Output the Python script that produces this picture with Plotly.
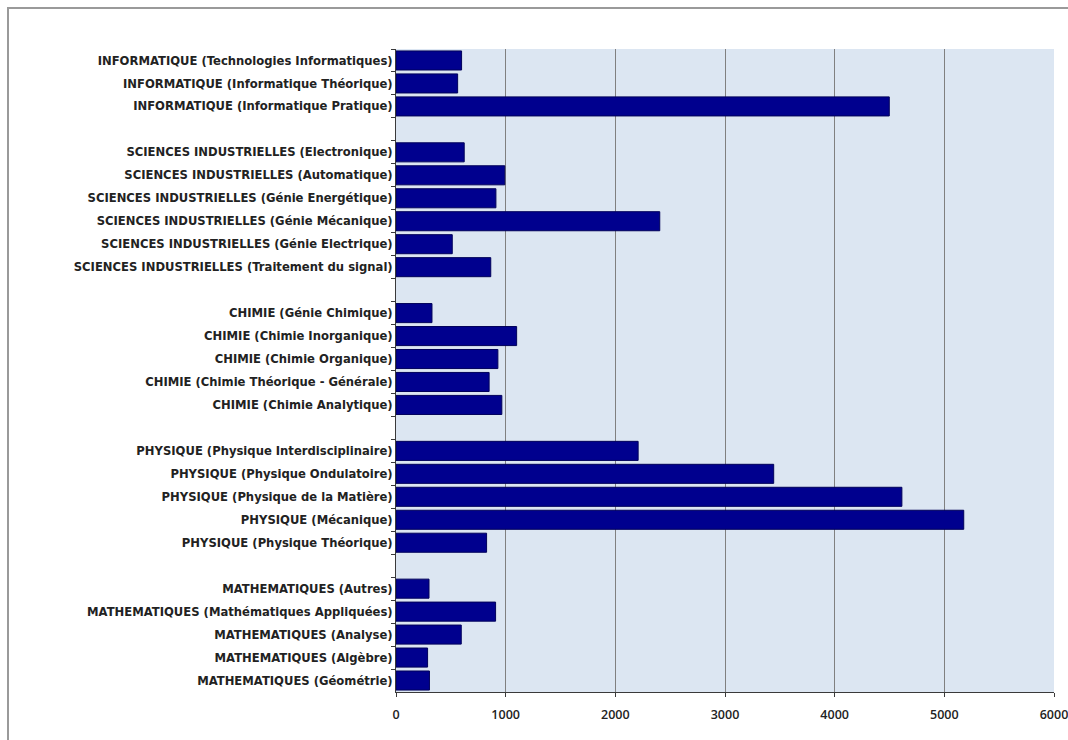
import plotly.graph_objects as go

# Disciplines grouped by field; each group is followed by a blank row in the chart
informatique = ["INFORMATIQUE (Technologies Informatiques)",
                "INFORMATIQUE (Informatique Théorique)",
                "INFORMATIQUE (Informatique Pratique)"]
informatique_vals = [598, 562, 4498]

sciences_ind = ["SCIENCES INDUSTRIELLES (Electronique)",
                "SCIENCES INDUSTRIELLES (Automatique)",
                "SCIENCES INDUSTRIELLES (Génie Energétique)",
                "SCIENCES INDUSTRIELLES (Génie Mécanique)",
                "SCIENCES INDUSTRIELLES (Génie Electrique)",
                "SCIENCES INDUSTRIELLES (Traitement du signal)"]
sciences_ind_vals = [622, 992, 911, 2405, 513, 864]

chimie = ["CHIMIE (Génie Chimique)",
          "CHIMIE (Chimie Inorganique)",
          "CHIMIE (Chimie Organique)",
          "CHIMIE (Chimie Théorique - Générale)",
          "CHIMIE (Chimie Analytique)"]
chimie_vals = [328, 1100, 929, 849, 965]

physique = ["PHYSIQUE (Physique Interdisciplinaire)",
            "PHYSIQUE (Physique Ondulatoire)",
            "PHYSIQUE (Physique de la Matière)",
            "PHYSIQUE (Mécanique)",
            "PHYSIQUE (Physique Théorique)"]
physique_vals = [2208, 3444, 4613, 5177, 826]

maths = ["MATHEMATIQUES (Autres)",
         "MATHEMATIQUES (Mathématiques Appliquées)",
         "MATHEMATIQUES (Analyse)",
         "MATHEMATIQUES (Algèbre)",
         "MATHEMATIQUES (Géométrie)"]
maths_vals = [301, 908, 595, 288, 305]

x_ticks = [0, 1000, 2000, 3000, 4000, 5000, 6000]

groups = [(informatique, informatique_vals),
          (sciences_ind, sciences_ind_vals),
          (chimie, chimie_vals),
          (physique, physique_vals),
          (maths, maths_vals)]

# Build the category list with distinct blank spacer rows between groups
cats, vals = [], []
for i, (names, values) in enumerate(groups):
    cats += names
    vals += values
    if i < len(groups) - 1:
        cats.append(" " * (i + 1))
        vals.append(None)

W, H = 1068, 740
L, R, T, B = 396, 14, 49, 48

fig = go.Figure(go.Bar(
    x=vals, y=cats, orientation="h",
    marker=dict(color="#00008e", line=dict(color="#00005a", width=1)),
    hoverinfo="x+y",
))

# Grey frame around the whole chart (runs past the right and bottom edges)
pw, ph = W - L - R, H - T - B
fig.add_shape(type="rect", xref="paper", yref="paper",
              x0=(8 - L) / pw, x1=(W + 10 - L) / pw,
              y0=(H - B - (H + 10)) / ph, y1=(H - B - 8) / ph,
              line=dict(color="#9a9a9a", width=2), fillcolor="rgba(0,0,0,0)",
              layer="below")

fig.update_layout(
    template="none",
    width=W, height=H,
    margin=dict(l=L, r=R, t=T, b=B, autoexpand=False),
    paper_bgcolor="white",
    plot_bgcolor="#dce6f2",
    bargap=0.17,
    showlegend=False,
    font=dict(family="DejaVu Sans", color="#222222"),
    xaxis=dict(range=[0, 6000], tickvals=x_ticks, automargin=False,
               showgrid=True, gridcolor="#808080", gridwidth=1,
               showline=True, linecolor="#3a3a3a", linewidth=1,
               ticks="outside", ticklen=4, tickcolor="#3a3a3a",
               ticklabelstandoff=7, ticklabeloverflow="allow",
               tickfont=dict(size=12.5, family="Open Sans", color="#222222", weight=600),
               zeroline=False, fixedrange=True),
    yaxis=dict(type="category", categoryorder="array", categoryarray=cats,
               autorange="reversed", automargin=False,
               showline=True, linecolor="#3a3a3a", linewidth=1,
               ticks="outside", ticklen=4, tickcolor="#3a3a3a",
               tickson="boundaries",
               tickfont=dict(size=11.6, family="DejaVu Sans", color="#222222", weight="bold"),
               showgrid=False, zeroline=False, fixedrange=True),
)

fig.write_html("out.html")
